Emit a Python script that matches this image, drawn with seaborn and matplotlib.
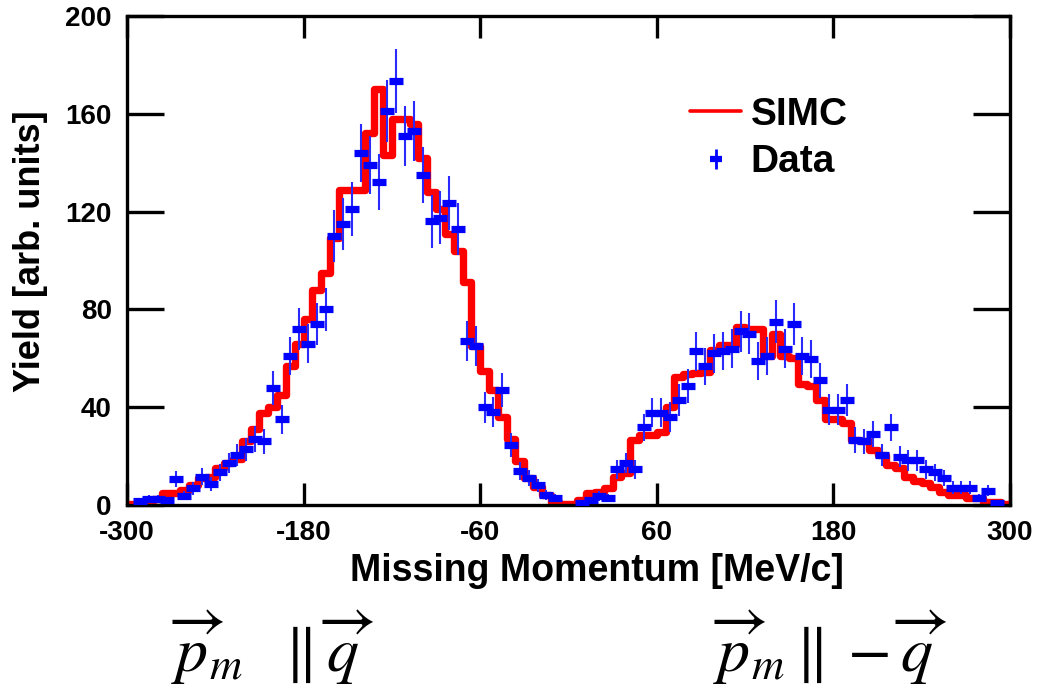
import numpy as np
import pandas as pd
import matplotlib
matplotlib.use("Agg")
import matplotlib.pyplot as plt
import seaborn as sns
from matplotlib.lines import Line2D
from matplotlib.legend_handler import HandlerTuple

# Binning of the missing-momentum histograms (MeV/c)
x_range = (-300, 300)
n_bins = 100

# SIMC simulation, yield per bin
simc_yield = [
    0.5, 0.8, 1.5, 2.5, 5, 5, 6, 8, 11, 11.5,
    15, 17, 19, 26, 31, 37.5, 40, 45, 57, 66,
    76, 88, 95, 109, 129, 129, 129, 152, 170, 143,
    158, 158, 156, 142, 128, 121, 111, 104, 91, 65,
    55, 47, 36, 27, 18, 11, 7.5, 4, 1, 0.3,
    0.3, 2, 5, 5.5, 7, 11.5, 13, 26.5, 28.5, 28.5,
    30, 40, 52.5, 53.5, 54, 54.5, 63.5, 65.5, 65.5, 73,
    72, 72, 61, 70, 61, 60, 49.5, 48.5, 43, 35,
    35, 33.5, 26.5, 26, 22.5, 20.5, 16.5, 15, 11.5, 10,
    9, 7.5, 5.5, 4, 4, 2.7, 2.7, 1.4, 1.4, 0.5,
]

# Measured yield per bin (nan = empty bin)
nan = float("nan")
data_yield = [
    nan, 1.5, 2.5, 2.5, 2, 10.7, 3.8, 6.8, 11.6, 8.6,
    13.3, 17, 20.5, 22.8, 27, 26, 47.8, 35, 61, 72,
    66, 74, 80, 110, 115, 121, 144, 139, 132, 161,
    173.5, 151, 153, 135, 116, 117.5, 123.5, 113, 67, 65,
    40, 38, 47, 24.5, 14, 11, 8, 4, 2.7, nan,
    nan, 1, 2, 3.7, 2.7, 14.6, 17, 14.6, 31.8, 37.8,
    37.8, 36, 43, 48.8, 62.8, 56.7, 62, 63, 64, 71,
    70, 59, 61, 75, 64, 74, 61, 59.7, 51, 39,
    39, 43, 26.6, 26, 29, 20.5, 31.8, 19.8, 18.2, 18.2,
    14.6, 13.3, 10.9, 7.1, 7.1, 7.1, 2.7, 5.9, 1, nan,
]

# Statistical uncertainty of the measured yield
data_err = [
    0, 1.2, 1.6, 1.6, 1.4, 3.3, 1.9, 2.6, 3.4, 2.9,
    3.6, 4.1, 4.5, 4.8, 5.2, 5.1, 6.9, 5.9, 7.8, 8.5,
    8.1, 8.6, 8.9, 10.5, 10.7, 11.0, 12.0, 11.8, 11.5, 12.7,
    13.2, 12.3, 12.4, 11.6, 10.8, 10.8, 11.1, 10.6, 8.2, 8.1,
    6.3, 6.2, 6.9, 4.9, 3.7, 3.3, 2.8, 2.0, 1.6, 0,
    0, 1.0, 1.4, 1.9, 1.6, 3.8, 4.1, 3.8, 5.6, 6.1,
    6.1, 6.0, 6.6, 7.0, 7.9, 7.5, 7.9, 7.9, 8.0, 8.4,
    8.4, 7.7, 7.8, 8.7, 8.0, 8.6, 7.8, 7.7, 7.1, 6.2,
    6.2, 6.6, 5.2, 5.1, 5.4, 4.5, 5.6, 4.4, 4.3, 4.3,
    3.8, 3.6, 3.3, 2.7, 2.7, 2.7, 1.6, 2.4, 1.0, 0,
]

x_ticks = [-300, -180, -60, 60, 180, 300]
y_ticks = [0, 40, 80, 120, 160, 200]

sns.set_theme(style="white")
plt.rcParams["font.family"] = ["Liberation Sans", "DejaVu Sans"]
plt.rcParams["font.weight"] = "normal"
plt.rcParams["mathtext.fontset"] = "stix"
plt.rcParams["text.color"] = "black"
plt.rcParams["axes.labelcolor"] = "black"

edges = np.linspace(x_range[0], x_range[1], n_bins + 1)
centers = 0.5 * (edges[:-1] + edges[1:])
hist_df = pd.DataFrame({"pm": centers, "simc": simc_yield})

fig = plt.figure(figsize=(10.4, 6.95), dpi=100)
ax = fig.add_axes([0.1221, 0.2734, 0.849, 0.7036])

# Simulation as a thick step histogram
sns.histplot(data=hist_df, x="pm", weights="simc", bins=edges.tolist(),
             element="step", fill=False, color="#ff0000", linewidth=5.3,
             ax=ax, zorder=2)

# Data points with vertical error bars
ax.errorbar(centers, data_yield, yerr=data_err, fmt="_", color="#0000ff",
            ms=10, mew=5.2, ecolor="#2a2aff", elinewidth=1.5, capsize=0,
            zorder=3)

ax.set_xlim(*x_range)
ax.set_ylim(0, 200)
ax.set_xticks(x_ticks)
ax.set_yticks(y_ticks)
ax.set_xticklabels([str(t) for t in x_ticks], fontweight="bold")
ax.set_yticklabels([str(t) for t in y_ticks], fontweight="bold")

for side in ["left", "right", "top", "bottom"]:
    ax.spines[side].set_visible(True)
    ax.spines[side].set_color("black")
    ax.spines[side].set_linewidth(2.4)

ax.tick_params(axis="x", which="major", direction="in", length=15.8, width=2.4,
               top=True, bottom=True, labelsize=20, pad=11, colors="black")
ax.tick_params(axis="y", which="major", direction="in", length=26.5, width=2.4,
               left=True, right=True, labelsize=20, pad=11, colors="black")

ax.set_xlabel("Missing Momentum [MeV/c]", fontsize=27, fontweight="bold")
ax.set_ylabel("Yield [arb. units]", fontsize=26, fontweight="bold")
ax.xaxis.set_label_coords(0.532, -0.098)
ax.yaxis.set_label_coords(-0.089, 0.52)

# Legend
simc_handle = Line2D([], [], color="#ff0000", lw=2.6)
data_v = Line2D([], [], ls="none", marker="|", ms=14, mew=2.0, color="#0000ff")
data_h = Line2D([], [], ls="none", marker="_", ms=8, mew=4.5, color="#0000ff")
ax.legend([simc_handle, (data_v, data_h)], ["SIMC", "Data"],
          handler_map={tuple: HandlerTuple(ndivide=1)},
          loc="upper left", bbox_to_anchor=(0.638, 0.835), frameon=False,
          prop={"size": 28, "weight": "bold"}, handlelength=1.3,
          handletextpad=0.25, labelspacing=0.3, borderpad=0, borderaxespad=0)

# Momentum-direction annotations below the axis
fig.text(0.262, 0.068, r"$\overrightarrow{p}_m\ \ \parallel\overrightarrow{q}$",
         fontsize=46, ha="center", va="center")
fig.text(0.798, 0.068, r"$\overrightarrow{p}_m\parallel -\overrightarrow{q}$",
         fontsize=46, ha="center", va="center")

fig.savefig("out.png", dpi=100)
